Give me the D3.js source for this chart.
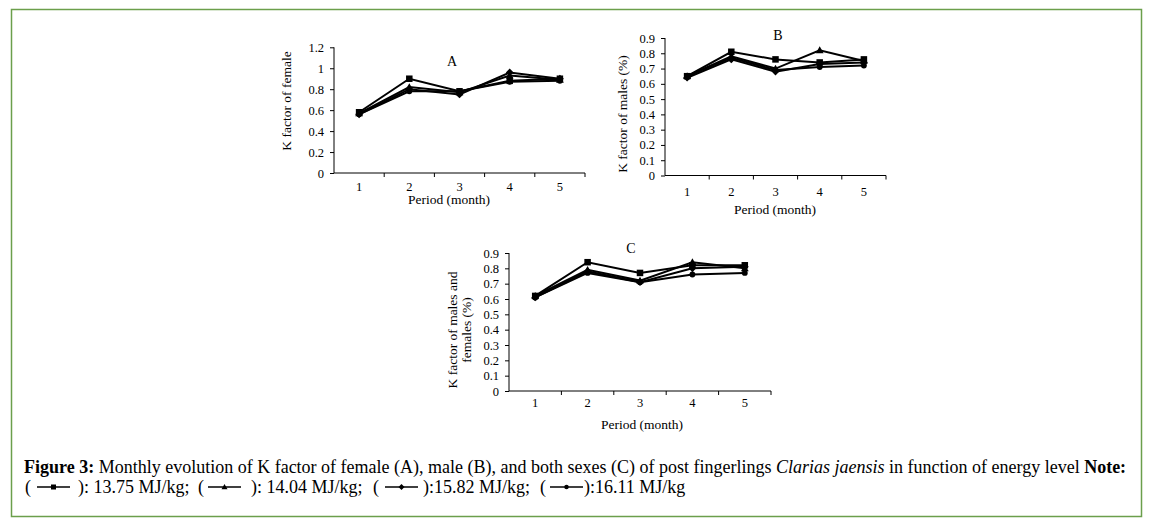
<!DOCTYPE html>
<html>
<head>
<meta charset="utf-8">
<script src="https://cdn.jsdelivr.net/npm/d3@7"></script>
<style>
  body { margin: 0; background: #fff; }
  text { font-family: "Liberation Serif", "Times New Roman", serif; fill: #000; }
</style>
</head>
<body>
<div id="chart"></div>
<script>
// periods (months) and energy levels of the four diets
const periods = [1, 2, 3, 4, 5];
const energyLevels = ["13.75 MJ/kg", "14.04 MJ/kg", "15.82 MJ/kg", "16.11 MJ/kg"];
const markerTypes = ["square", "triangle", "diamond", "circle"];

// K factor, one row per energy level
const kFemale = [
  [0.58, 0.90, 0.78, 0.88, 0.90],
  [0.57, 0.82, 0.77, 0.93, 0.89],
  [0.56, 0.80, 0.75, 0.96, 0.90],
  [0.56, 0.78, 0.78, 0.87, 0.88]
];
const kMale = [
  [0.65, 0.81, 0.76, 0.74, 0.76],
  [0.65, 0.78, 0.70, 0.82, 0.75],
  [0.64, 0.76, 0.68, 0.73, 0.74],
  [0.65, 0.77, 0.69, 0.71, 0.72]
];
const kBoth = [
  [0.62, 0.84, 0.77, 0.82, 0.82],
  [0.62, 0.79, 0.72, 0.84, 0.80],
  [0.61, 0.78, 0.71, 0.80, 0.81],
  [0.61, 0.77, 0.71, 0.76, 0.77]
];

const yTicksA = [0, 0.2, 0.4, 0.6, 0.8, 1, 1.2];
const yTicksB = [0, 0.1, 0.2, 0.3, 0.4, 0.5, 0.6, 0.7, 0.8, 0.9];

const W = 1149, H = 522;

const svg = d3.select('#chart').append('svg')
  .attr('width', W)
  .attr('height', H);

// green frame round the figure
svg.append('rect')
  .attr('x', 11.5).attr('y', 9.5)
  .attr('width', 1130).attr('height', 507)
  .attr('fill', 'none')
  .attr('stroke', '#6b9f4b')
  .attr('stroke-width', 1.5);

function drawMarker(g, type, x, y, s) {
  if (type === 'square') {
    g.append('rect').attr('x', x - s / 2).attr('y', y - s / 2)
      .attr('width', s).attr('height', s).attr('fill', '#000');
  } else if (type === 'triangle') {
    g.append('path')
      .attr('d', 'M' + x + ',' + (y - s * 0.6) + 'L' + (x + s * 0.6) + ',' + (y + s * 0.45) + 'L' + (x - s * 0.6) + ',' + (y + s * 0.45) + 'Z')
      .attr('fill', '#000');
  } else if (type === 'diamond') {
    g.append('path')
      .attr('d', 'M' + x + ',' + (y - s * 0.6) + 'L' + (x + s * 0.6) + ',' + y + 'L' + x + ',' + (y + s * 0.6) + 'L' + (x - s * 0.6) + ',' + y + 'Z')
      .attr('fill', '#000');
  } else {
    g.append('circle').attr('cx', x).attr('cy', y).attr('r', s * 0.45).attr('fill', '#000');
  }
}

function drawPanel(p) {
  const g = svg.append('g');

  const x = d3.scaleBand()
    .domain(periods)
    .range([p.left, p.right]);

  const y = d3.scaleLinear()
    .domain([0, p.yMax])
    .range([p.bottom, p.top]);

  // x axis: ticks at band edges, labels at band centres
  g.append('line')
    .attr('x1', p.left).attr('x2', p.right)
    .attr('y1', p.bottom).attr('y2', p.bottom)
    .attr('stroke', '#000');
  const edges = periods.map(d => x(d)).concat([p.right]);
  g.selectAll('.xtick').data(edges.slice(1)).join('line')
    .attr('class', 'xtick')
    .attr('x1', d => d).attr('x2', d => d)
    .attr('y1', p.bottom).attr('y2', p.bottom + 4)
    .attr('stroke', '#000');
  g.selectAll('.xlab').data(periods).join('text')
    .attr('class', 'xlab')
    .attr('x', d => x(d) + x.bandwidth() / 2)
    .attr('y', p.bottom + p.xLabDy)
    .attr('text-anchor', 'middle')
    .style('font-size', '12.5px')
    .text(d => d);

  // y axis
  const yAxis = d3.axisLeft(y)
    .tickValues(p.yTicks)
    .tickSize(4)
    .tickPadding(6)
    .tickFormat(d => String(+d.toFixed(1)));
  const ya = g.append('g')
    .attr('transform', 'translate(' + p.left + ',0)')
    .call(yAxis);
  ya.select('.domain').attr('d', 'M0,' + p.top + 'V' + p.bottom);
  ya.selectAll('text')
    .style('font-family', '"Liberation Serif", serif')
    .style('font-size', '12.5px');

  // series lines and markers
  const line = d3.line()
    .x((d, i) => x(periods[i]) + x.bandwidth() / 2)
    .y(d => y(d));

  p.data.forEach(row => {
    g.append('path')
      .attr('d', line(row))
      .attr('fill', 'none')
      .attr('stroke', '#000')
      .attr('stroke-width', 2);
  });
  p.data.forEach((row, k) => {
    row.forEach((v, i) => {
      drawMarker(g, markerTypes[k], x(periods[i]) + x.bandwidth() / 2, y(v), 6.5);
    });
  });

  // panel letter
  g.append('text')
    .attr('x', p.titleX).attr('y', p.titleY)
    .attr('text-anchor', 'middle')
    .style('font-size', '14px')
    .text(p.title);

  // x axis label
  g.append('text')
    .attr('x', p.xTitleX).attr('y', p.xTitleY)
    .attr('text-anchor', 'middle')
    .style('font-size', '13.5px')
    .text('Period (month)');

  // y axis label, one or two lines
  p.yTitle.forEach((t, i) => {
    g.append('text')
      .attr('transform', 'translate(' + (p.yTitleX + i * 14) + ',' + p.yTitleY + ') rotate(-90)')
      .attr('text-anchor', 'middle')
      .style('font-size', '13.5px')
      .text(t);
  });
}

drawPanel({
  data: kFemale, yMax: 1.2, yTicks: yTicksA,
  left: 334, right: 585, top: 47.3, bottom: 173, xLabDy: 18,
  title: 'A', titleX: 452, titleY: 66,
  xTitleX: 449, xTitleY: 204,
  yTitle: ['K factor of female'], yTitleX: 291, yTitleY: 101
});

drawPanel({
  data: kMale, yMax: 0.9, yTicks: yTicksB,
  left: 665, right: 886, top: 38, bottom: 175.5, xLabDy: 20,
  title: 'B', titleX: 778, titleY: 40,
  xTitleX: 775, xTitleY: 214,
  yTitle: ['K factor of males  (%)'], yTitleX: 627, yTitleY: 114
});

drawPanel({
  data: kBoth, yMax: 0.9, yTicks: yTicksB,
  left: 509, right: 771, top: 253, bottom: 391, xLabDy: 16,
  title: 'C', titleX: 631, titleY: 253,
  xTitleX: 642, xTitleY: 429,
  yTitle: ['K factor of males and', 'females (%)'], yTitleX: 457, yTitleY: 330
});

// caption
const cap = svg.append('text')
  .attr('x', 24).attr('y', 473)
  .style('font-size', '18px');
cap.append('tspan').style('font-weight', 'bold').text('Figure 3:');
cap.append('tspan').text(' Monthly evolution of K factor of female (A), male (B), and both sexes (C) of post fingerlings ');
cap.append('tspan').style('font-style', 'italic').text('Clarias jaensis');
cap.append('tspan').text(' in function of energy level ');
cap.append('tspan').style('font-weight', 'bold').text('Note:');

// legend line: ( symbol ): energy level
const legY = 493;
const seps = [': ', ': ', ':', ':'];
const openX = [25, 198, 373, 540];
const symX = [37, 208, 385, 550];
const closeX = [78, 251, 423, 584];
energyLevels.forEach((lvl, k) => {
  svg.append('text').attr('x', openX[k]).attr('y', legY)
    .style('font-size', '18px').text('(');
  const lg = svg.append('g');
  lg.append('line')
    .attr('x1', symX[k]).attr('x2', symX[k] + 33)
    .attr('y1', legY - 6).attr('y2', legY - 6)
    .attr('stroke', '#000').attr('stroke-width', 1.3);
  drawMarker(lg, markerTypes[k], symX[k] + 16.5, legY - 6, 5);
  const rest = seps[k] + lvl + (k < energyLevels.length - 1 ? ';' : '');
  svg.append('text').attr('x', closeX[k]).attr('y', legY)
    .style('font-size', '18px').text(')' + rest);
});
</script>
</body>
</html>
